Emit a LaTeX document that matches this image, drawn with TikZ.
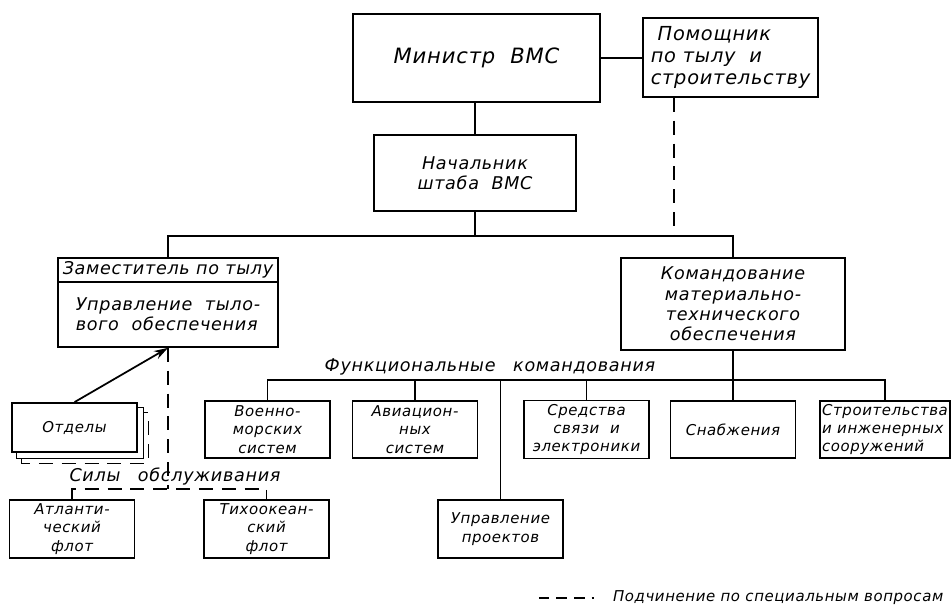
\documentclass[tikz,border=0pt]{standalone}
\usepackage{fontspec}
\setmainfont{DejaVu Sans}[LetterSpace=4]
\usetikzlibrary{arrows.meta,positioning,backgrounds}

\begin{document}
\begin{tikzpicture}[x=0.02cm,y=-0.02cm,line width=1pt,
    font=\itshape\fontsize{10}{11.5}\selectfont,
    box/.style={draw,fill=white,inner sep=2pt,align=center},
    smallbox/.style={box,minimum width=2.5cm,minimum height=1.14cm,
      font=\itshape\fontsize{8.5}{10.5}\selectfont},
    link/.style={dash pattern=on 8pt off 5pt}]
  \useasboundingbox (0,0) rectangle (952,615);

  \coordinate (topbus) at (0,236);
  \coordinate (funbus) at (0,380);
  \coordinate (silbus) at (0,489);

  % top of the chart
  \node[box,line width=1.3pt,minimum width=4.94cm,minimum height=1.76cm,
        font=\itshape\fontsize{12}{14}\selectfont] (minister) at (476.5,58) {Министр\ \ ВМС};
  \node[box,align=left,minimum width=3.5cm,minimum height=1.58cm,
        font=\itshape\fontsize{11}{12.5}\selectfont] (pomtyl) at (730.5,57.5) {\ Помощник\\по тылу\ \ и\\строительству};
  \node[box,minimum width=4.04cm,minimum height=1.52cm] (nachshtab) at (475,173) {Начальник\\штаба\ \ ВМС};

  \node[box,inner sep=1pt,minimum width=4.4cm,minimum height=0.48cm] (zamtyl) at (168,270) {Заместитель по тылу};
  \node[box,align=left,minimum width=4.4cm,minimum height=1.3cm,below=-1pt of zamtyl] (uprtyl) {Управление\ \ тыло-\\вого\ \ обеспечения};
  \node[box,minimum width=4.48cm,minimum height=1.84cm] (komobesp) at (733,304) {Командование\\материально-\\технического\\обеспечения};

  % functional commands
  \node (funkc) at (490,367) {Функциональные\quad командования};
  \node[smallbox] (voenmor) at (267.5,429.5) {Военно-\\морских\\систем};
  \node[smallbox] (aviac) at (415,429.5) {Авиацион-\\ных\\систем};
  \node[smallbox] (svyaz) at (586.5,429.5) {Средства\\связи\ \ и\\электроники};
  \node[smallbox] (snabzh) at (733,429.5) {Снабжения};
  \node[smallbox,align=left,inner sep=1pt,minimum width=2.6cm] (stroit) at (885,429.5) {Строительства\\и инженерных\\сооружений};
  \node[smallbox,minimum height=1.16cm] (proekt) at (500.5,529) {Управление\\проектов};

  % service forces
  \node[smallbox,minimum height=0.98cm] (otdely) at (74.5,427.5) {Отделы};
  \node (sily) at (175,476) {Силы\quad обслуживания};
  \node[smallbox,minimum height=1.16cm] (atlant) at (72,529) {Атланти-\\ческий\\флот};
  \node[smallbox,minimum height=1.16cm] (tikhook) at (266.5,529) {Тихоокеан-\\ский\\флот};

  \begin{scope}[on background layer]
    \draw[link,fill=white] ([shift={(10,10)}]otdely.north west) rectangle ([shift={(10,10)}]otdely.south east);
    \draw[fill=white] ([shift={(5,5)}]otdely.north west) rectangle ([shift={(5,5)}]otdely.south east);
  \end{scope}

  \draw (minister.east) -- (minister.east -| pomtyl.west);
  \draw (nachshtab.north) -- (nachshtab.north |- minister.south);
  \draw (nachshtab.south) -- (nachshtab.south |- topbus);
  \draw (zamtyl.north) -- (zamtyl.north |- topbus) -- (komobesp.north |- topbus) -- (komobesp.north);
  \draw[link] ([xshift=-1.13cm]pomtyl.south) -- ([xshift=-1.13cm]pomtyl.south |- topbus);

  \draw (komobesp.south) -- (snabzh.north);
  \draw (voenmor.north) -- (voenmor.north |- funbus) -- (stroit.north |- funbus) -- (stroit.north);
  \draw (aviac.north) -- (aviac.north |- funbus);
  \draw (proekt.north) -- (proekt.north |- funbus);
  \draw (svyaz.north) -- (svyaz.north |- funbus);

  \draw[-{Stealth[length=8pt,width=5pt]}] (otdely.north) -- (uprtyl.south);
  \draw[link] (uprtyl.south) -- (uprtyl.south |- silbus);
  \draw[link] (atlant.north) -- (atlant.north |- silbus) -- (tikhook.north |- silbus) -- (tikhook.north);

  % legend
  \node[anchor=east,font=\itshape\fontsize{8.5}{10}\selectfont] (legend) at (950,598) {Подчинение по специальным вопросам};
  \draw[dash pattern=on 6pt off 4pt] ([xshift=-1.35cm]legend.west) -- ([xshift=-0.25cm]legend.west);
\end{tikzpicture}
\end{document}
